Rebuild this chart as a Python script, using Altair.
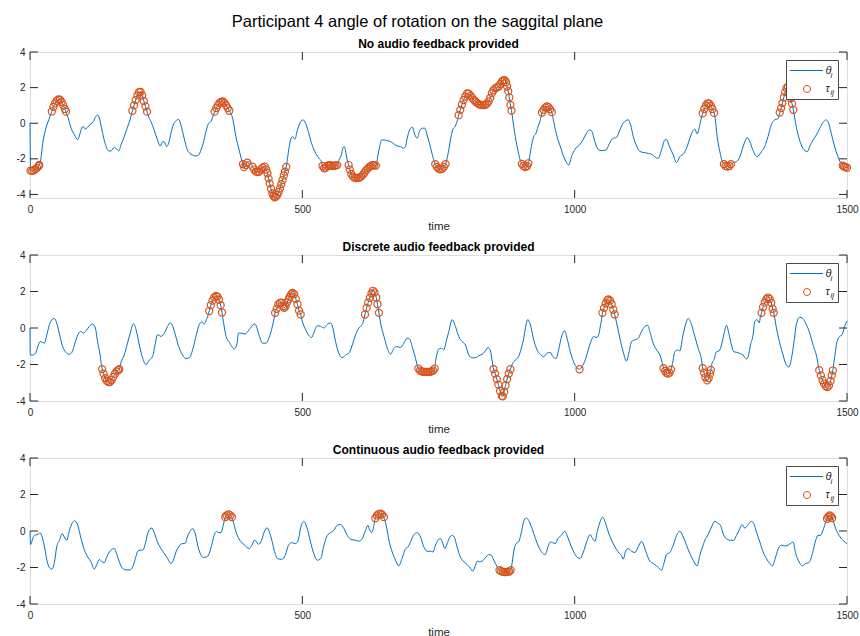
import altair as alt
import pandas as pd

TITLE = "Participant 4 angle of rotation on the saggital plane"
PANEL_TITLES = ["No audio feedback provided",
                "Discrete audio feedback provided",
                "Continuous audio feedback provided"]
X_TICKS = [0, 500, 1000, 1500]
Y_TICKS = [-4, -2, 0, 2, 4]
Y_DOMAINS = [[-4.2, 4], [-4, 4], [-4, 4]]
LEGEND_LABELS = [("θ", "i"), ("τ", "ij")]

# panel 1 (time, angle)
P1 = [
    (0, 0.0), (1, -2.66), (4, -2.68), (7, -2.64), (10, -2.58), (13, -2.5), (16, -2.4), (17, -2.34),
    (20, -2.0), (23.5, -1.1), (27, -0.55), (30, -0.2), (34.5, 0.2), (38, 0.5),
    (40, 0.66), (43, 0.92), (46, 1.12), (49, 1.26), (52, 1.34), (55, 1.32), (58, 1.2), (61, 1.02), (64, 0.8), (66, 0.65),
    (70, 0.3), (75.5, -0.28), (81.6, -0.65), (87.7, -0.92), (92, -0.56), (95.7, -0.22), (98, -0.19), (101.8, -0.34),
    (106, -0.2), (112, -0.05), (116.4, 0.1), (121, 0.38), (124.4, 0.47), (127.4, 0.28), (132, -0.38), (138, -1.13),
    (144.5, -1.56), (148.8, -1.56), (155, -1.35), (159, -1.45), (163, -1.56), (167, -1.22), (173, -0.75), (179, -0.22),
    (183.7, 0.19),
    (188, 0.7), (191, 1.0), (194, 1.3), (197, 1.56), (200, 1.74), (203, 1.76), (206, 1.56), (209, 1.25), (212, 0.95), (215, 0.65),
    (218, 0.35), (222, 0.1), (228, -0.38), (234, -0.94), (239, -1.28), (243.6, -1.03), (246.6, -1.05), (251, -1.31),
    (254.6, -1.12), (258.9, -0.56), (263, -0.09), (268, 0.13), (272.9, 0.22), (277, -0.09), (283, -0.84), (289, -1.5),
    (295.6, -1.74), (304.7, -1.84), (309.6, -1.79), (313.9, -1.5), (318, -1.13), (323, -0.47), (328, 0.0), (332, 0.09), (335, 0.3),
    (339, 0.65), (342, 0.85), (345, 1.02), (348, 1.14), (351, 1.2), (354, 1.22), (357, 1.14), (360, 1.0), (363, 0.85), (366, 0.7),
    (372, 0.28), (378, -0.75), (384, -1.5), (388, -2.0),
    (391, -2.3), (393, -2.47), (396, -2.35), (399, -2.21),
    (402, -2.16), (405, -2.2),
    (408.7, -2.44), (411.5, -2.6), (414.8, -2.72), (418, -2.74), (421, -2.72), (424, -2.6), (427, -2.5), (431, -2.44),
    (433.5, -2.6), (436, -2.81), (438, -3.1), (440, -3.38), (442.5, -3.68), (445, -3.94), (447, -4.08), (449, -4.16),
    (451.5, -4.12), (454, -4.03), (456.5, -3.86), (459, -3.66), (461.5, -3.42), (463.6, -3.19), (466, -2.93), (468, -2.72),
    (470.5, -2.45),
    (472.8, -1.97), (476, -1.31), (479, -0.88), (482, -0.75), (486.5, -0.9), (490, -0.5), (494, -0.1), (501, 0.19),
    (506, 0.0), (511, -0.47), (517, -1.13), (524.4, -1.69), (530.6, -1.97), (535, -2.16),
    (537, -2.4), (540, -2.53), (543, -2.5), (546, -2.4), (549, -2.35), (552, -2.36), (555, -2.4), (558, -2.4), (561, -2.37), (564, -2.35),
    (567, -2.1), (571.5, -1.78), (574.6, -1.4), (577, -1.31), (580.7, -1.78), (583, -2.15),
    (585, -2.35), (587, -2.6), (590, -2.85), (593, -3.0), (596, -3.06), (599, -3.08), (602, -3.07), (605, -3.05), (608, -3.0),
    (611, -2.9), (614, -2.78), (617, -2.65), (620, -2.55), (623, -2.45), (626, -2.4), (629, -2.36), (632, -2.35), (635, -2.38),
    (639, -1.78), (642, -1.31), (645.5, -0.94), (650, -0.94), (656, -0.98), (662, -1.03), (668, -1.16), (674, -1.28),
    (680, -1.31), (686, -1.41), (689.5, -1.3), (692.5, -0.84), (697, -0.38), (702, -0.22), (706.6, -0.66), (710.9, -0.84),
    (715, -0.47), (720, -0.28), (725, -0.28), (729, -0.66), (733.5, -1.13), (738, -1.69), (742, -2.15),
    (744, -2.3), (747, -2.45), (750, -2.55), (753.7, -2.59), (757, -2.55), (760, -2.45), (763, -2.3),
    (767.7, -1.69), (772, -0.94), (776, -0.38), (781, -0.15), (785, 0.2),
    (787, 0.45), (790, 0.75), (793, 1.05), (796, 1.3), (799, 1.5), (802.6, 1.67), (805.5, 1.66), (808.7, 1.55), (812, 1.42),
    (815, 1.3), (818, 1.22), (821, 1.14), (824, 1.07), (827, 1.03), (830, 1.02), (833, 1.02), (836, 1.04), (839, 1.1),
    (842, 1.22), (845, 1.42), (848, 1.69), (851, 1.85), (854.5, 1.97), (857.5, 2.02), (860.6, 2.06), (863.5, 2.2),
    (866.7, 2.35), (869, 2.4), (871.6, 2.42), (874, 2.3), (876, 2.06), (878, 1.8), (880, 1.45), (882, 1.03), (884, 0.71),
    (886, 0.28), (891, -0.75), (897, -1.69), (901, -2.15),
    (903, -2.28), (906, -2.4), (909.5, -2.47), (912.5, -2.4), (915, -2.25),
    (918, -1.75), (920.5, -1.31), (924.8, -0.75), (929, -0.56), (932.8, -0.19), (937, 0.19),
    (940, 0.6), (943, 0.75), (946, 0.88), (949, 0.94), (952, 0.9), (955, 0.78), (958, 0.62),
    (961.5, 0.09), (967.6, -0.75), (973.7, -1.31), (979.8, -1.88), (985, -2.2), (989, -2.35), (995, -1.8), (1001, -1.45),
    (1008, -1.25), (1015, -0.95), (1021, -0.6), (1027, -0.38), (1031, -0.42), (1037, -1.03), (1043, -1.46), (1049.6, -1.54),
    (1057.6, -1.5), (1064, -1.13), (1069, -0.88), (1077, -0.79), (1083, -0.38), (1089, 0.0), (1098.4, 0.19), (1102.7, -0.09),
    (1107.6, -0.75), (1113.7, -1.28), (1120, -1.59), (1127, -1.65), (1135, -1.69), (1141, -1.74), (1147, -1.88),
    (1153.4, -1.97), (1159.5, -1.5), (1165.6, -0.94), (1168.7, -0.92), (1173.6, -1.28), (1181, -1.78), (1187, -2.21),
    (1193, -1.88), (1200.6, -1.69), (1206.6, -1.31), (1211.5, -0.84), (1217.6, -0.41), (1220.6, -0.34), (1225, -0.6),
    (1229.8, -0.09), (1233, 0.35),
    (1235, 0.55), (1238, 0.8), (1241, 1.0), (1244, 1.12), (1247, 1.1), (1250, 0.98), (1253, 0.8), (1256, 0.58),
    (1258, 0.28), (1261.6, -0.75), (1266.5, -1.59), (1271, -2.15),
    (1274, -2.3), (1277, -2.4), (1280.5, -2.44), (1284, -2.4), (1287, -2.3),
    (1292, -2.2), (1297, -2.16), (1303, -1.91), (1309.3, -1.31), (1315.4, -0.84), (1316.6, -0.8), (1321.5, -1.03),
    (1327.6, -1.54), (1335, -1.88), (1343, -1.59), (1349, -1.31), (1355, -0.75), (1361, -0.09), (1367.4, 0.19), (1373.5, 0.26),
    (1376.5, 0.6), (1379, 0.85), (1381.4, 1.13), (1384, 1.45), (1386.5, 1.75), (1389, 1.97), (1391.5, 2.05), (1394, 1.8),
    (1396.5, 1.4), (1399, 1.1), (1401.5, 0.75),
    (1404, 0.3), (1407, -0.22), (1413, -0.94), (1419, -1.41), (1427, -1.59), (1433, -1.22), (1437.7, -0.94), (1443.8, -0.66),
    (1450, -0.28), (1456, 0.04), (1462, 0.19), (1465, 0.09), (1471, -0.56), (1477, -1.28), (1483.5, -1.88), (1489.6, -2.3),
    (1492, -2.38), (1494.5, -2.44), (1497, -2.47), (1500, -2.5),
]
P1_TAU = [(1, 17), (40, 66), (188, 215), (339, 366), (391, 399), (408, 471), (537, 564), (585, 635),
          (744, 763), (787, 884), (903, 915), (940, 958), (1235, 1256), (1274, 1287), (1376, 1402), (1492, 1500)]

P2 = [
    (0, 0.0), (0.5, -1.48), (5, -1.48), (10, -1.39), (14.4, -1.02), (18.6, -0.74), (22.3, -0.78), (26.6, -0.83),
    (30.9, -0.37), (35.8, 0.19), (40.6, 0.46), (45, 0.52), (49, 0.28), (54, -0.33), (60, -1.02), (66, -1.33), (72, -1.44),
    (77, -1.33), (83.4, -0.74), (89.5, -0.28), (93.8, -0.19), (98, -0.28), (103, -0.15), (109, 0.09), (115, 0.22),
    (120, 0.0), (124, -0.74), (128.7, -1.48), (131, -2.0),
    (132.5, -2.25), (135, -2.5), (138, -2.75), (141, -2.9), (144, -2.96), (147, -2.95), (150, -2.85), (153, -2.68),
    (156, -2.5), (159, -2.38), (162, -2.3), (164, -2.26),
    (167, -1.89), (173, -1.48), (179, -0.83), (184, -0.28), (190, 0.24), (194.7, -0.09), (200.8, -0.93), (207, -1.67),
    (213, -2.0), (219, -1.76), (225, -1.57), (229.5, -0.93), (234, -0.37), (237.4, -0.41), (240.5, -0.46), (246.6, -0.28),
    (252.7, 0.09), (257, 0.28), (260.7, 0.19), (266.8, -0.37), (273, -1.02), (280, -1.48), (286, -1.67), (292.5, -1.63),
    (298.5, -1.2), (304.7, -0.46), (310.8, 0.19), (315.7, 0.33), (320, 0.22), (324, 0.46), (327, 0.7),
    (329, 0.93), (332, 1.25), (335, 1.5), (338, 1.68), (341.4, 1.76), (344, 1.72), (347, 1.55), (350, 1.25), (352.5, 0.85),
    (355, 0.37), (360, -0.46), (366, -0.78), (375, -1.15), (379.5, -0.93), (383, -0.28), (387.3, -0.28), (395, -0.33),
    (402.5, -0.09), (411.6, 0.22), (414.7, 0.15), (420.8, -0.41), (427, -0.83), (433, -0.83), (439, -0.52), (445, 0.09),
    (448, 0.5),
    (450, 0.83), (453, 1.05), (456, 1.3), (459, 1.38), (462, 1.39), (465, 1.2), (466.6, 1.11), (469, 1.18), (472, 1.4),
    (474.6, 1.57), (477, 1.72), (479.5, 1.85), (482, 1.92), (485, 1.85), (488, 1.6), (491, 1.3), (494, 0.95), (497, 0.74),
    (500, 0.37), (506, -0.09), (512, -0.41), (517, -0.52), (521, -0.28), (527.5, 0.13), (533.6, 0.09), (539.7, 0.0),
    (545.8, 0.19), (552, 0.28), (556, 0.0), (561, -0.74), (567, -1.39), (573, -1.63), (579.5, -1.48), (586.8, -1.33),
    (591.7, -0.93), (597.8, -0.37), (603.9, 0.0), (610, 0.19), (613, 0.46),
    (615, 0.74), (618, 1.1), (621, 1.4), (624, 1.65), (627, 1.9), (629.6, 2.04), (632.5, 1.95), (635.7, 1.67), (638, 1.3),
    (640.6, 0.83),
    (643.6, 0.28), (649.8, -0.46), (656, -1.11), (662, -1.44), (668, -1.11), (674, -1.02), (680, -1.07), (686.4, -0.83),
    (692.5, -0.56), (697, -0.6), (701.7, -1.02), (707.8, -1.67), (711, -2.05),
    (713, -2.22), (716, -2.33), (719, -2.38), (722, -2.4), (725, -2.4), (728, -2.4), (731, -2.4), (734, -2.4),
    (737, -2.38), (740, -2.33), (743, -2.22),
    (744.5, -1.85), (747.5, -1.39), (750.6, -1.15), (755.5, -1.11), (759.8, -1.2), (764, -0.74), (769, -0.19), (775, 0.46),
    (781, 0.09), (787, -0.46), (793.4, -0.74), (799.5, -0.93), (805.6, -1.48), (811.7, -1.63), (817.8, -1.63), (824, -1.52),
    (830, -1.44), (836, -1.26), (841, -1.07), (845.4, -1.26), (848.5, -1.8),
    (851, -2.25), (854, -2.5), (857, -2.8), (860, -3.1), (863, -3.45), (866, -3.72), (868, -3.75), (870.5, -3.5),
    (873, -3.15), (876, -2.8), (879, -2.5), (882, -2.26),
    (886, -1.94), (891, -1.76), (897, -1.57), (902, -1.11), (906.5, -0.56), (910.8, 0.19), (913.8, 0.46), (918.7, 0.19),
    (924.8, -0.65), (931, -1.2), (937, -1.44), (943, -1.57), (949, -1.39), (955, -1.33), (960, -1.57), (966, -1.67),
    (970.5, -1.2), (976.5, -0.41), (981.7, -0.15), (986, -0.56), (992, -1.3), (998, -1.85), (1004, -2.18),
    (1009, -2.26),
    (1015, -2.05), (1021, -1.6), (1026.7, -1.02), (1031, -0.65), (1035, -0.46), (1039, -0.52), (1043, -0.46),
    (1047.7, 0.19), (1050, 0.6),
    (1051, 0.83), (1054, 1.1), (1057, 1.35), (1060, 1.52), (1062, 1.57), (1065, 1.5), (1068, 1.3), (1071, 1.0), (1073.5, 0.74),
    (1077, 0.28), (1083, -0.56), (1089, -1.3), (1095, -1.81), (1100, -1.3), (1104.5, -0.74), (1110.6, -0.65),
    (1116.7, -0.56), (1122.8, -0.19), (1129, 0.09), (1134, 0.15), (1138, -0.19), (1144, -0.83), (1150.4, -1.2),
    (1156.5, -1.48), (1161, -1.95),
    (1163, -2.2), (1166, -2.35), (1168.5, -2.45), (1171, -2.5), (1174, -2.45), (1177, -2.28),
    (1179.7, -1.94), (1184, -1.3), (1189, -1.2), (1193, -1.26), (1199, -0.37), (1205.4, 0.37), (1208.4, 0.52),
    (1214.5, 0.19), (1220.6, -0.46), (1226.8, -1.11), (1233, -1.76),
    (1235, -2.2), (1237.5, -2.45), (1240, -2.7), (1243.3, -2.87), (1246, -2.75), (1248.5, -2.5), (1250, -2.3),
    (1253, -1.85), (1255.5, -1.76), (1260.4, -1.3), (1265, -1.26), (1269.6, -0.93), (1273.8, -0.37), (1278.7, 0.15),
    (1283.6, -0.37), (1287.9, -0.93), (1292, -1.3), (1297, -1.33), (1303, -1.39), (1309, -1.48), (1315.4, -1.7),
    (1318.5, -1.57), (1322.8, -0.93), (1327.6, -0.37), (1330.7, 0.37), (1335, 0.46), (1338.6, 0.28), (1341, 0.6),
    (1343, 0.83), (1346, 1.15), (1349, 1.4), (1352, 1.58), (1355, 1.67), (1358, 1.6), (1361, 1.38), (1363.5, 1.05), (1365.5, 0.83),
    (1370.4, 0.0), (1376.5, -0.83), (1382.6, -1.48), (1388.8, -2.04), (1393.6, -2.13), (1398, -1.67), (1402.8, -0.74),
    (1407, 0.19), (1413, 0.59), (1419, 0.52), (1425.4, 0.19), (1431.5, -0.28), (1437.7, -0.93), (1445, -1.67), (1447.5, -2.1),
    (1449, -2.31), (1452, -2.6), (1455, -2.85), (1458, -3.05), (1461, -3.18), (1464, -3.24), (1467, -3.15), (1470, -2.9),
    (1472, -2.6), (1474, -2.33),
    (1477, -1.67), (1481.7, -0.74), (1486.6, -0.46), (1491, -0.37), (1495.7, 0.09), (1500, 0.4),
]
P2_TAU = [(132, 164), (329, 353), (450, 497), (615, 641), (713, 743), (851, 882), (1008, 1010), (1051, 1074),
          (1163, 1177), (1235, 1250), (1343, 1366), (1449, 1474)]

P3 = [
    (0, 0.0), (1, -0.75), (2, -0.7), (5, -0.42), (8, -0.24), (12.5, -0.2), (16, -0.15), (18.6, -0.09), (22.3, -0.33),
    (26.6, -0.87), (31, -1.6), (35.8, -2.02), (40, -2.09), (45, -1.69), (49, -0.87), (54, -0.51), (59, -0.15), (63, -0.33),
    (67.5, -0.51), (72.4, 0.04), (77, 0.4), (82, 0.56), (87.7, 0.31), (93.8, -0.42), (100, -1.05), (106, -1.42),
    (112, -1.69), (118, -2.09), (122.6, -1.84), (127.4, -1.56), (132, -1.69), (136.6, -1.73), (140.9, -1.42),
    (145.8, -1.15), (150.7, -1.0), (155, -0.96), (159, -1.24), (164, -1.69), (170, -2.05), (176, -2.13), (183.7, -2.13),
    (188.6, -1.96), (193.5, -1.51), (197.7, -1.11), (202, -1.05), (207, -1.05), (211, -0.78), (216, -0.15), (220.4, 0.13),
    (224, 0.16), (228, -0.09), (234, -0.6), (240.5, -0.96), (246.6, -1.24), (252.7, -1.51), (258.9, -1.78), (263, -1.6),
    (268, -1.15), (274, -0.82), (280, -0.69), (284.5, -0.69), (289.4, -0.27), (293.7, -0.02), (298.6, 0.13),
    (303.5, -0.15), (307.8, -0.78), (312.7, -1.24), (318, -1.45), (324, -1.42), (329, -1.24), (333.5, -0.78),
    (338, -0.24), (342.6, -0.02), (346.3, -0.09), (350.6, -0.09), (354.8, 0.31), (357, 0.6),
    (358.5, 0.76), (361, 0.85), (364.6, 0.91), (368, 0.86), (370.7, 0.76),
    (375, 0.31), (379.3, -0.15), (385.5, -0.51), (393, -0.75), (402.5, -0.96), (407.5, -0.78), (411.7, -0.51),
    (414.7, -0.55), (419.6, -0.73), (425, -0.51), (430, -0.05), (435, 0.18), (439, -0.02), (444, -0.51), (448.3, -1.05),
    (454.4, -1.51), (462.4, -1.55), (468.5, -1.33), (474.6, -0.78), (480.7, -0.64), (486.8, -0.69), (491, -0.6),
    (494, -0.3), (497, 0.2), (503, 0.53), (509, 0.13), (515, -0.6), (521, -1.24), (527.5, -1.6), (533.6, -1.51),
    (539.7, -0.78), (545.8, -0.24), (552, -0.09), (558, 0.04), (564, 0.31), (570, 0.36), (576.4, 0.13), (582.5, -0.24),
    (588.6, -0.45), (597.8, -0.51), (605, -0.56), (610, -0.42), (616, 0.04), (620.4, 0.31), (624, 0.04), (627, -0.09),
    (631.4, 0.31),
    (634, 0.7), (637, 0.85), (640, 0.93), (643.6, 0.95), (646.5, 0.9), (649.8, 0.76),
    (654, 0.31), (659, -0.51), (665, -1.15), (671, -1.6), (677, -1.91), (683, -1.51), (689, -1.0), (694, -0.87),
    (700, -0.51), (704.8, -0.2), (711, -0.09), (717, -0.33), (723, -0.87), (729, -1.11), (735, -1.11), (740, -1.15),
    (744.5, -0.78), (749, -0.51), (753.7, -0.42), (758, -0.69), (761.6, -0.96), (766, -0.69), (770, -0.38), (775, -0.24),
    (779, -0.33), (784, -0.87), (790, -1.42), (796.5, -1.69), (802.6, -1.84), (808.7, -2.05), (813, -2.2), (818, -1.87),
    (821, -1.65), (825, -1.69), (830, -1.65), (836, -1.47), (842, -1.29), (847, -1.33), (851.5, -1.6), (857.6, -1.96),
    (860, -2.08),
    (862, -2.15), (865, -2.2), (868, -2.24), (871, -2.25), (874, -2.25), (877, -2.24), (880, -2.22), (882.5, -2.15),
    (884.5, -1.87), (888, -1.15), (892.4, -0.69), (897, -0.6), (901.6, -0.15), (906.5, 0.53), (910.8, 0.71), (915.6, 0.58),
    (921.8, 0.13), (928, -0.42), (934, -0.87), (940, -1.18), (946, -1.29), (951, -0.87), (955.4, -0.6), (959.7, -0.64),
    (964.5, -0.69), (969, -0.42), (975.5, -0.24), (981.7, -0.02), (987.8, -0.38), (994, -0.87), (1000, -1.24),
    (1006, -1.47), (1010, -1.5), (1016, -1.15), (1022, -0.6), (1028.4, -0.2), (1033, -0.42), (1037.3, -0.56),
    (1041.6, -0.02), (1046.5, 0.49), (1051.4, 0.76), (1055.6, 0.53), (1061.7, -0.05), (1067.8, -0.51), (1074, -0.87),
    (1080, -1.15), (1086, -1.36), (1089, -1.55), (1093.5, -1.11), (1098.4, -0.96), (1104.5, -1.11), (1110.6, -1.18),
    (1116.7, -0.87), (1122.8, -0.56), (1127, -0.78), (1132, -1.24), (1138, -1.65), (1144, -1.78), (1150.4, -1.91),
    (1156.5, -2.09), (1159.5, -2.15), (1163.8, -1.78), (1168.7, -1.29), (1174.8, -1.18), (1181, -0.78), (1187, -0.24),
    (1193.2, -0.02), (1199.3, -0.33), (1205.4, -0.78), (1211.5, -1.24), (1217.6, -1.6), (1225, -1.91), (1229.8, -1.33),
    (1234.7, -0.87), (1239, -0.51), (1245, -0.2), (1251.2, 0.22), (1257.3, 0.53), (1261.6, 0.45), (1267.7, 0.31),
    (1273.8, -0.24), (1280, -0.45), (1286, -0.51), (1292, -0.51), (1297, -0.24), (1302, 0.04), (1307.5, 0.35),
    (1312.3, 0.16), (1318.5, 0.35), (1324.6, 0.53), (1328.9, 0.4), (1333.7, -0.05), (1339.9, -0.6), (1346, -1.15),
    (1352, -1.51), (1358.2, -1.78), (1363, -1.91), (1369, -1.42), (1375.3, -0.87), (1379.6, -0.78), (1385.7, -0.82),
    (1391.8, -0.78), (1397.9, -0.64), (1401, -0.6), (1405.9, -1.24), (1412, -1.69), (1418, -1.91), (1424.2, -1.78),
    (1430.3, -1.73), (1436.4, -1.24), (1442.5, -0.51), (1446.8, -0.24), (1451, -0.24), (1454.8, -0.05), (1459, 0.31),
    (1461.5, 0.55),
    (1463.3, 0.67), (1465.5, 0.78), (1468, 0.85), (1470.5, 0.8), (1473, 0.71),
    (1479.2, 0.13), (1485.3, -0.24), (1492.7, -0.51), (1497.6, -0.64), (1500, -0.7),
]
P3_TAU = [(358, 371), (634, 650), (862, 883), (1463, 1473)]

W, H = 817, 146
BLUE = "#0072BD"
ORANGE = "#D95319"
AXC = "#262626"
FONT = "Liberation Sans"


def minus_label():
    return "datum.value < 0 ? '-' + abs(datum.value) : '' + datum.value"


def panel(points, ranges, title, ydom, first=False):
    df = pd.DataFrame(points, columns=["t", "v"])
    df["tau"] = [any(a <= t <= b for a, b in ranges) for t in df["t"]]
    xt = pd.DataFrame({"t": X_TICKS})
    yt = pd.DataFrame({"v": Y_TICKS})
    one = pd.DataFrame({"k": [0]})

    x = alt.X("t:Q",
              scale=alt.Scale(domain=[0, 1500], nice=False, zero=False),
              axis=alt.Axis(values=X_TICKS, title="time", ticks=False, domain=False, grid=False,
                            labelFlush=False, labelPadding=6, labelFontSize=10, labelColor=AXC,
                            labelExpr=minus_label(),
                            titleFontSize=11.5, titleFontWeight="normal", titleColor=AXC,
                            titleY=31, titleBaseline="alphabetic"))
    y = alt.Y("v:Q",
              scale=alt.Scale(domain=ydom, nice=False, zero=False),
              axis=alt.Axis(values=Y_TICKS, title=None, ticks=False, domain=False, grid=False,
                            labelFlush=False, labelPadding=5, labelFontSize=10, labelColor=AXC,
                            labelExpr=minus_label()))

    line = alt.Chart(df).mark_line(color=BLUE, strokeWidth=1, interpolate="monotone").encode(x=x, y=y)
    pts = alt.Chart(df).transform_filter("datum.tau").mark_point(
        shape="circle", filled=False, color=ORANGE, size=50, strokeWidth=1.2, opacity=1
    ).encode(x=x, y=y)

    tick_kw = dict(color=AXC, strokeWidth=1)
    yl = alt.Chart(yt).mark_rule(**tick_kw).encode(y=y, x=alt.value(0), x2=alt.value(8))
    yr = alt.Chart(yt).mark_rule(**tick_kw).encode(y=y, x=alt.value(W - 8), x2=alt.value(W))
    xb = alt.Chart(xt).mark_rule(**tick_kw).encode(x=x, y=alt.value(H - 8), y2=alt.value(H))
    xtop = alt.Chart(xt).mark_rule(**tick_kw).encode(x=x, y=alt.value(0), y2=alt.value(8))

    box = alt.Chart(one).mark_rect(fill="white", stroke="#4a4a4a", strokeWidth=1).encode(
        x=alt.value(756.5), x2=alt.value(808.5), y=alt.value(8.5), y2=alt.value(47.5))
    lsym = alt.Chart(one).mark_rule(color=BLUE, strokeWidth=1.2).encode(
        x=alt.value(760), x2=alt.value(793), y=alt.value(18.5), y2=alt.value(18.5))
    csym = alt.Chart(one).mark_point(shape="circle", filled=False, color=ORANGE, size=50,
                                     strokeWidth=1, opacity=1).encode(
        x=alt.value(777), y=alt.value(37))
    txt_kw = dict(font=FONT, fontStyle="italic", color=AXC, align="left", baseline="alphabetic")
    t1 = alt.Chart(one).mark_text(text=LEGEND_LABELS[0][0], fontSize=11, **txt_kw).encode(
        x=alt.value(795.5), y=alt.value(22))
    s1 = alt.Chart(one).mark_text(text=LEGEND_LABELS[0][1], fontSize=8, **txt_kw).encode(
        x=alt.value(800.5), y=alt.value(26))
    t2 = alt.Chart(one).mark_text(text=LEGEND_LABELS[1][0], fontSize=11, **txt_kw).encode(
        x=alt.value(795.5), y=alt.value(40))
    s2 = alt.Chart(one).mark_text(text=LEGEND_LABELS[1][1], fontSize=8, **txt_kw).encode(
        x=alt.value(800.5), y=alt.value(42.5))

    sub = alt.Chart(one).mark_text(text=title, font=FONT, fontSize=12, fontWeight="bold", color="#000000",
                                   align="center", baseline="alphabetic").encode(
        x=alt.value(W / 2), y=alt.value(-4))

    layers = [line, pts, yl, yr, xb, xtop, box, lsym, csym, t1, s1, t2, s2, sub]
    if first:
        main = alt.Chart(one).mark_text(text=TITLE, font=FONT, fontSize=16.5, color="#000000",
                                        align="center", baseline="alphabetic").encode(
            x=alt.value(387.5), y=alt.value(-25.5))
        anchor = alt.Chart(one).mark_rule(strokeOpacity=0, strokeWidth=1).encode(
            x=alt.value(-29.5), x2=alt.value(-28.5), y=alt.value(-51.5), y2=alt.value(-51.5))
        layers += [main, anchor]

    return alt.layer(*layers).properties(width=W, height=H)


chart = alt.vconcat(
    panel(P1, P1_TAU, PANEL_TITLES[0], Y_DOMAINS[0], first=True),
    panel(P2, P2_TAU, PANEL_TITLES[1], Y_DOMAINS[1]),
    panel(P3, P3_TAU, PANEL_TITLES[2], Y_DOMAINS[2]),
    spacing=57, bounds="flush",
).properties(padding=0, background="white").configure_view(
    stroke=AXC, strokeWidth=1
).configure(font=FONT)

chart.save("out.html", embed_options={"renderer": "svg", "actions": False})
